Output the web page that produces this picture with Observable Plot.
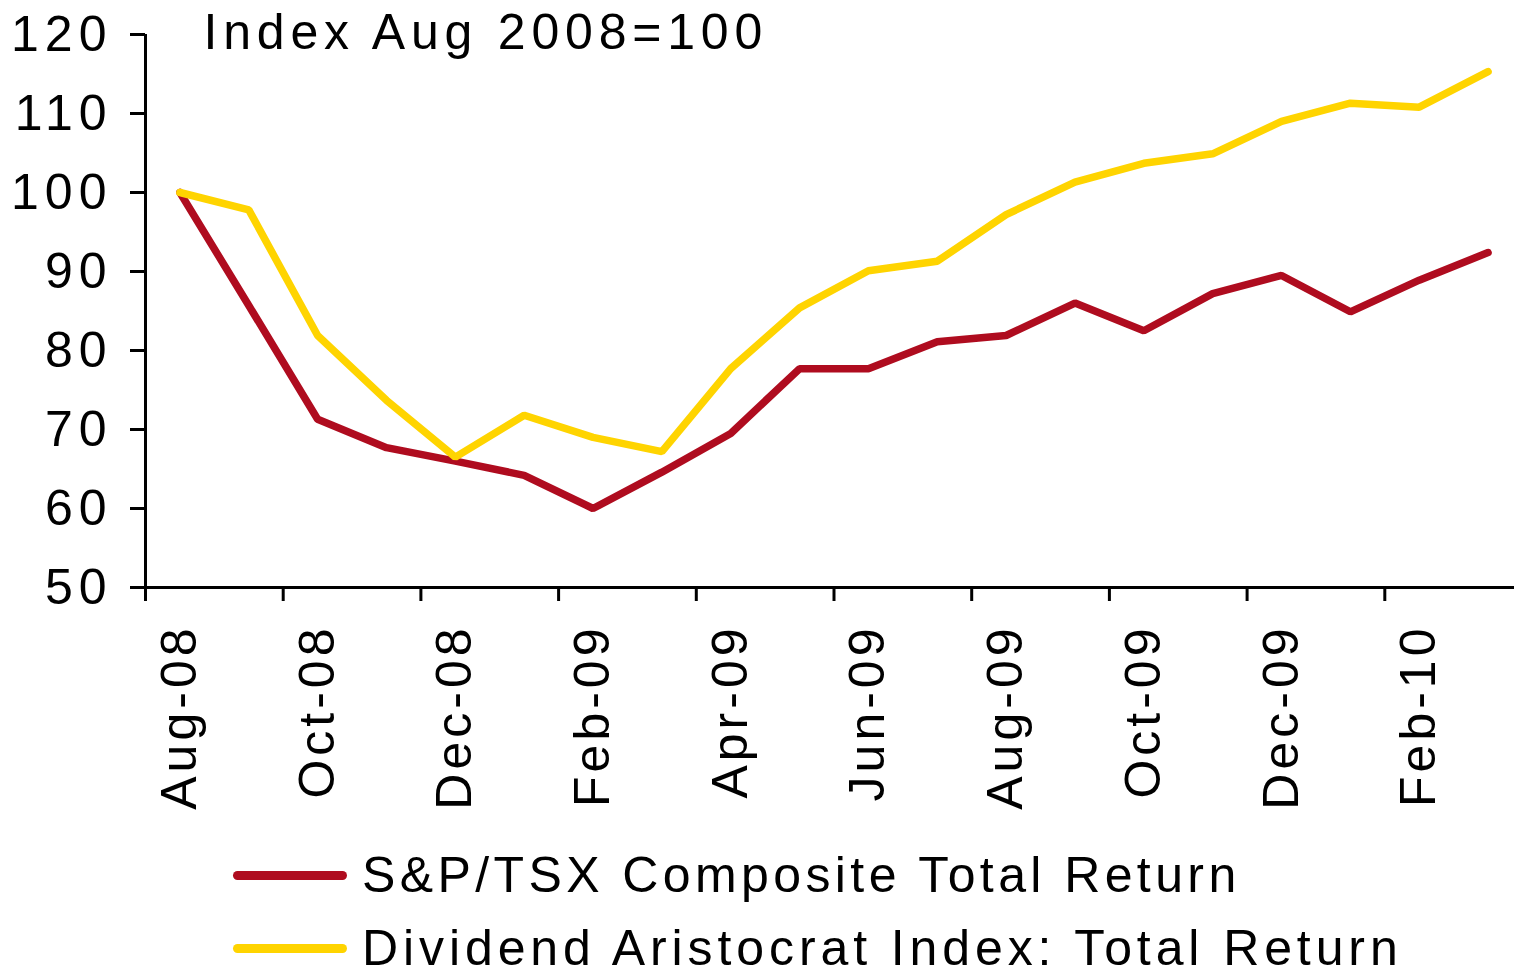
<!DOCTYPE html>
<html>
<head>
<meta charset="utf-8">
<script src="https://cdn.jsdelivr.net/npm/d3@7"></script>
<script src="https://cdn.jsdelivr.net/npm/@observablehq/plot@0.6"></script>
<style>
  html, body { margin: 0; padding: 0; background: #fff; overflow: hidden; }
  #wrap { position: relative; width: 1514px; height: 974px; font-family: "Liberation Sans", Arial, sans-serif; }
  #chart svg { display: block; }
  g[aria-label="y-axis tick label"] text { letter-spacing: 6px; }
  g[aria-label="x-axis tick label"] text { letter-spacing: 4px; }
  g[aria-label="text"] text { letter-spacing: 5.8px; }
  #legend { position: relative; height: 144px; }
  .row { position: absolute; left: 233px; display: flex; align-items: center; height: 50px;
         font-size: 50px; line-height: 50px; color: #000; white-space: nowrap; }
  .sw { display: inline-block; width: 114px; height: 9px; border-radius: 4.5px; margin-right: 15px; }
</style>
</head>
<body>
<div id="wrap">
  <div id="chart"></div>
  <div id="legend"></div>
</div>
<script>
// ---- data ----
const months = ["Aug-08","Sep-08","Oct-08","Nov-08","Dec-08","Jan-09","Feb-09","Mar-09","Apr-09","May-09",
                "Jun-09","Jul-09","Aug-09","Sep-09","Oct-09","Nov-09","Dec-09","Jan-10","Feb-10","Mar-10"];
const tsxValues = [100, 85.7, 71.3, 67.7, 66.0, 64.2, 60.0, 64.6, 69.5, 77.7,
                   77.7, 81.1, 81.9, 86.0, 82.5, 87.2, 89.5, 84.9, 88.9, 92.4];
const aristocratValues = [100, 97.8, 81.9, 73.7, 66.5, 71.8, 69.0, 67.2, 77.7, 85.4,
                          90.1, 91.3, 97.2, 101.3, 103.7, 104.9, 109.0, 111.3, 110.8, 115.3];
const seriesNames = ["S&P/TSX Composite Total Return", "Dividend Aristocrat Index: Total Return"];
const yTicks = [50, 60, 70, 80, 90, 100, 110, 120];
const labelMonths = ["Aug-08","Oct-08","Dec-08","Feb-09","Apr-09","Jun-09","Aug-09","Oct-09","Dec-09","Feb-10"];
const title = "Index Aug 2008=100";

const colors = ["#AF0C1F", "#FFD400"];
const legendSpacing = [4.4, 4.9];

const tsxRows = months.map((m, i) => ({i, month: m, value: tsxValues[i]}));
const arRows = months.map((m, i) => ({i, month: m, value: aristocratValues[i]}));
const labelIdx = labelMonths.map(m => months.indexOf(m));
const boundaries = labelIdx.map(i => i - 0.5);

const chart = Plot.plot({
  width: 1514,
  height: 830,
  marginTop: 34,
  marginBottom: 243,
  marginLeft: 145,
  marginRight: 0,
  style: {fontFamily: '"Liberation Sans", Arial, sans-serif', fontSize: "50px", color: "#000", background: "#fff", overflow: "visible"},
  x: {type: "linear", domain: [-0.5, months.length - 0.5], range: [145, 1522], label: null},
  y: {domain: [50, 120], label: null},
  marks: [
    Plot.axisY(yTicks, {tickSize: 15, tickPadding: 18, strokeWidth: 3, fontSize: 50, label: null}),
    Plot.axisX(boundaries, {tickSize: 14, strokeWidth: 3, tickFormat: () => "", label: null}),
    Plot.axisX(labelIdx, {tickSize: 0, tickPadding: 37, tickRotate: -90, fontSize: 50,
                          tickFormat: i => months[i], label: null}),
    Plot.ruleX([-0.5], {strokeWidth: 3, stroke: "#000"}),
    Plot.ruleY([50], {strokeWidth: 3, stroke: "#000"}),
    Plot.line(tsxRows, {x: "i", y: "value", stroke: colors[0], strokeWidth: 7.5,
                        strokeLinecap: "round", strokeLinejoin: "miter"}),
    Plot.line(arRows, {x: "i", y: "value", stroke: colors[1], strokeWidth: 7.5,
                       strokeLinecap: "round", strokeLinejoin: "miter"}),
    Plot.text([title], {frameAnchor: "top-left", dx: 58, dy: 14, textAnchor: "start",
                        lineAnchor: "bottom", fontSize: 50, fill: "#000"})
  ]
});
document.getElementById("chart").appendChild(chart);

// legend
const legend = document.getElementById("legend");
const tops = [20, 93];
seriesNames.forEach((name, k) => {
  const row = document.createElement("div");
  row.className = "row";
  row.style.top = tops[k] + "px";
  row.style.letterSpacing = legendSpacing[k] + "px";
  const sw = document.createElement("span");
  sw.className = "sw";
  sw.style.background = colors[k];
  const tx = document.createElement("span");
  tx.textContent = name;
  row.appendChild(sw);
  row.appendChild(tx);
  legend.appendChild(row);
});
</script>
</body>
</html>
